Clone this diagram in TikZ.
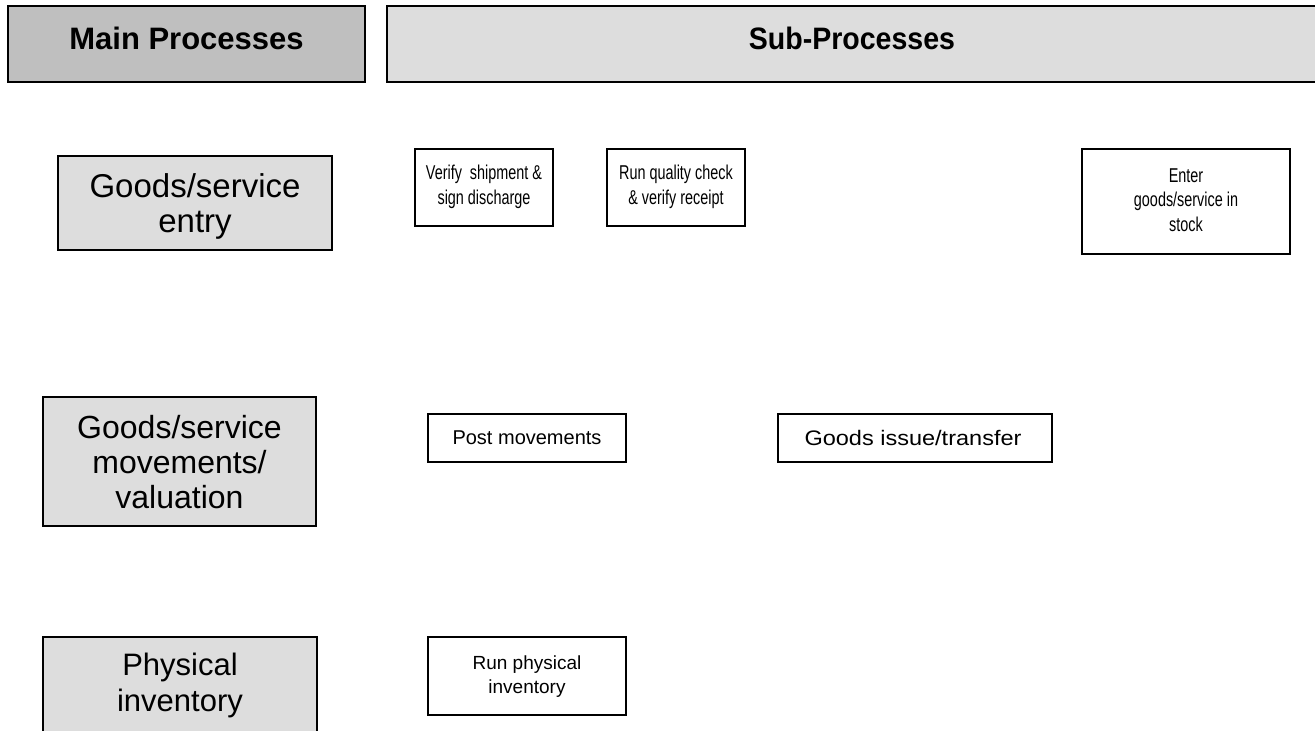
\documentclass[tikz,border=0pt]{standalone}
\usepackage{fontspec}
\setmainfont{Liberation Sans}
\newfontfamily\condfont[FakeStretch=0.72]{Liberation Sans}
\newfontfamily\hdrcondfont[FakeStretch=0.92]{Liberation Sans}
\newfontfamily\widefont[FakeStretch=1.12]{Liberation Sans}
\definecolor{hdrgray}{RGB}{191,191,191}
\definecolor{boxgray}{RGB}{221,221,221}
\tikzset{
  hdrbox/.style={draw=black, line width=2pt, inner sep=0pt},
  mainbox/.style={draw=black, line width=1.6pt, fill=boxgray, inner sep=0pt},
  subbox/.style={draw=black, line width=1.4pt, fill=white, inner sep=0pt},
  hdrtxt/.style={font=\fontsize{31}{35}\selectfont\bfseries, inner sep=0pt},
  bigtxt/.style={font=\fontsize{32}{35}\selectfont, align=center, inner sep=0pt},
  smalltxt/.style={font=\fontsize{20}{24}\selectfont, align=center, inner sep=0pt},
  condtxt/.style={font=\fontsize{20}{24.5}\selectfont\condfont, align=center, inner sep=0pt}
}
\begin{document}
\begin{tikzpicture}[x=1pt, y=-1pt]
\useasboundingbox (0,0) rectangle (1315,731);
\clip (0,0) rectangle (1315,731);
% headers
\node[hdrbox, fill=hdrgray, minimum width=357pt, minimum height=76pt] (mainhdr) at (186.5,44) {};
\node[hdrtxt] (mainhdrT) at (186.5,38) {Main Processes};
\node[hdrbox, fill=boxgray, minimum width=943pt, minimum height=76pt] (subhdr) at (858.5,44) {};
\node[hdrtxt, font=\fontsize{31}{35}\selectfont\bfseries\hdrcondfont] (subhdrT) at (852,38) {Sub-Processes};
% row 1
\node[mainbox, minimum width=274pt, minimum height=94pt] (entry) at (195,203) {};
\node[bigtxt, font=\fontsize{33}{35}\selectfont] (entryT) at (195,206) {Goods/service\\entry};
\node[subbox, minimum width=138pt, minimum height=77pt] (verify) at (484,187.5) {};
\node[condtxt] (verifyT) at (484,187) {Verify\ \ shipment \&\\sign discharge};
\node[subbox, minimum width=138pt, minimum height=77pt] (quality) at (676,187.5) {};
\node[condtxt] (qualityT) at (676,187) {Run quality check\\\& verify receipt};
\node[subbox, minimum width=208pt, minimum height=105pt] (enter) at (1186,201.5) {};
\node[condtxt] (enterT) at (1186,200) {Enter\\goods/service in\\stock};
% row 2
\node[mainbox, minimum width=273pt, minimum height=129pt] (moves) at (179.5,461.5) {};
\node[bigtxt] (movesT) at (179.5,462) {Goods/service\\movements/\\valuation};
\node[subbox, minimum width=198pt, minimum height=48pt] (post) at (527,438) {};
\node[smalltxt] (postT) at (527,438) {Post movements};
\node[subbox, minimum width=274pt, minimum height=48pt] (issue) at (915,438) {};
\node[smalltxt, font=\fontsize{21}{24}\selectfont\widefont] (issueT) at (913,438) {Goods issue/transfer};
% row 3
\node[mainbox, minimum width=274pt, minimum height=123pt] (phys) at (180,698.5) {};
\node[bigtxt, font=\fontsize{31}{36}\selectfont] (physT) at (180,685) {Physical\\inventory};
\node[subbox, minimum width=198pt, minimum height=78pt] (runphys) at (527,676) {};
\node[smalltxt, font=\fontsize{19}{24}\selectfont] (runphysT) at (527,677) {Run physical\\inventory};
\end{tikzpicture}
\end{document}
